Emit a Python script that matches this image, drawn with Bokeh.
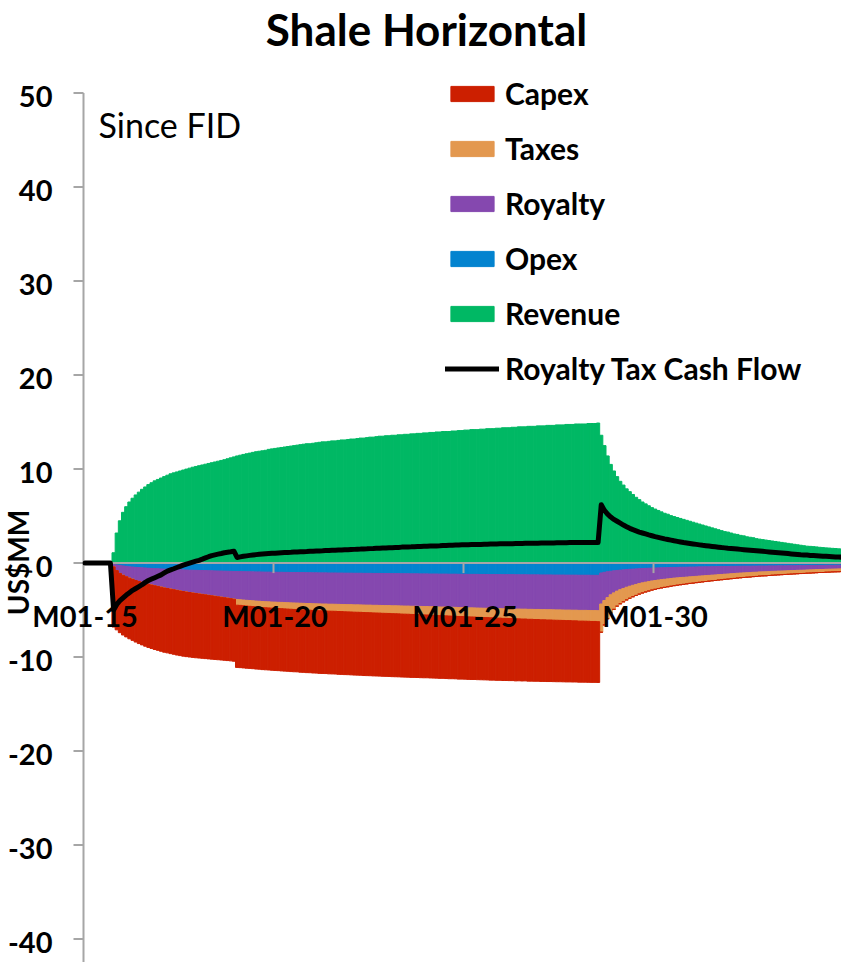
import math

from bokeh.core.properties import value
from bokeh.embed import file_html
from bokeh.models import ColumnDataSource, Legend, LegendItem, Range1d
from bokeh.plotting import figure
from bokeh.resources import INLINE

FONT = "Lato"

# Monthly categories, Jan 2015 .. Dec 2034
years = list(range(15, 35))
months = [f"M{m:02d}-{y:02d}" for y in years for m in range(1, 13)]

# US$MM per month, one row per year
revenue = [
    0, 0, 0, 0, 0, 0, 0, 0, 0, 1.1, 3.2, 4.5,
    5.4, 6.0, 6.5, 6.9, 7.25, 7.55, 7.85, 8.1, 8.35, 8.55, 8.75, 8.9,
    9.05, 9.2, 9.35, 9.5, 9.6, 9.7, 9.8, 9.9, 10.0, 10.1, 10.2, 10.28,
    10.36, 10.44, 10.52, 10.6, 10.68, 10.76, 10.84, 10.92, 11.0, 11.1, 11.2, 11.3,
    11.4, 11.48, 11.56, 11.63, 11.7, 11.78, 11.85, 11.9, 11.95, 12.0, 12.1, 12.15,
    12.2, 12.25, 12.3, 12.35, 12.4, 12.45, 12.5, 12.55, 12.6, 12.65, 12.7, 12.7,
    12.75, 12.8, 12.85, 12.9, 12.9, 12.95, 13.0, 13.0, 13.05, 13.1, 13.1, 13.15,
    13.2, 13.2, 13.25, 13.3, 13.3, 13.35, 13.4, 13.4, 13.45, 13.5, 13.5, 13.55,
    13.55, 13.6, 13.6, 13.65, 13.65, 13.7, 13.7, 13.75, 13.75, 13.8, 13.8, 13.85,
    13.85, 13.9, 13.9, 13.95, 13.95, 14.0, 14.0, 14.0, 14.05, 14.05, 14.1, 14.1,
    14.15, 14.15, 14.2, 14.2, 14.2, 14.25, 14.25, 14.3, 14.3, 14.3, 14.35, 14.35,
    14.4, 14.4, 14.4, 14.45, 14.45, 14.5, 14.5, 14.5, 14.55, 14.55, 14.55, 14.6,
    14.6, 14.6, 14.65, 14.65, 14.65, 14.7, 14.7, 14.7, 14.75, 14.75, 14.75, 14.8,
    14.8, 14.8, 14.8, 14.85, 14.85, 14.85, 14.9, 13.6, 12.5, 11.4, 10.5, 9.8,
    9.2, 8.7, 8.3, 7.9, 7.6, 7.3, 7.0, 6.75, 6.5, 6.3, 6.1, 5.9,
    5.75, 5.6, 5.45, 5.3, 5.2, 5.05, 4.95, 4.85, 4.75, 4.65, 4.55, 4.45,
    4.35, 4.25, 4.15, 4.05, 3.95, 3.85, 3.75, 3.65, 3.55, 3.45, 3.35, 3.3,
    3.2, 3.1, 3.05, 2.95, 2.9, 2.8, 2.75, 2.7, 2.6, 2.55, 2.5, 2.45,
    2.4, 2.35, 2.3, 2.25, 2.2, 2.15, 2.1, 2.05, 2.0, 1.95, 1.9, 1.85,
    1.8, 1.78, 1.75, 1.72, 1.68, 1.65, 1.62, 1.6, 1.57, 1.55, 1.52, 1.5,
]

# Outflows are listed as positive amounts and plotted below zero
opex = [
    0, 0, 0, 0, 0, 0, 0, 0, 0, 0.1, 0.2, 0.25,
    0.3, 0.35, 0.4, 0.42, 0.45, 0.48, 0.5, 0.52, 0.55, 0.57, 0.59, 0.6,
    0.62, 0.64, 0.65, 0.67, 0.68, 0.7, 0.71, 0.72, 0.74, 0.75, 0.76, 0.77,
    0.78, 0.79, 0.8, 0.81, 0.82, 0.83, 0.84, 0.85, 0.86, 0.87, 0.88, 0.89,
    0.9, 0.9, 0.91, 0.92, 0.92, 0.93, 0.94, 0.94, 0.95, 0.96, 0.96, 0.97,
    0.97, 0.98, 0.98, 0.99, 0.99, 1.0, 1.0, 1.0, 1.01, 1.01, 1.02, 1.02,
    1.03, 1.03, 1.04, 1.04, 1.04, 1.05, 1.05, 1.05, 1.06, 1.06, 1.07, 1.07,
    1.07, 1.08, 1.08, 1.08, 1.09, 1.09, 1.09, 1.1, 1.1, 1.1, 1.11, 1.11,
    1.11, 1.12, 1.12, 1.12, 1.13, 1.13, 1.13, 1.14, 1.14, 1.14, 1.15, 1.15,
    1.15, 1.16, 1.16, 1.16, 1.17, 1.17, 1.17, 1.18, 1.18, 1.18, 1.19, 1.19,
    1.19, 1.2, 1.2, 1.2, 1.2, 1.21, 1.21, 1.21, 1.22, 1.22, 1.22, 1.22,
    1.23, 1.23, 1.23, 1.23, 1.24, 1.24, 1.24, 1.24, 1.25, 1.25, 1.25, 1.25,
    1.26, 1.26, 1.26, 1.26, 1.27, 1.27, 1.27, 1.27, 1.28, 1.28, 1.28, 1.28,
    1.29, 1.29, 1.29, 1.29, 1.3, 1.3, 1.3, 1.05, 0.98, 0.92, 0.87, 0.82,
    0.78, 0.75, 0.72, 0.69, 0.66, 0.64, 0.62, 0.6, 0.58, 0.56, 0.55, 0.53,
    0.52, 0.51, 0.5, 0.49, 0.48, 0.47, 0.46, 0.45, 0.44, 0.44, 0.43, 0.42,
    0.42, 0.41, 0.4, 0.4, 0.39, 0.39, 0.38, 0.38, 0.37, 0.37, 0.36, 0.36,
    0.35, 0.35, 0.34, 0.34, 0.33, 0.33, 0.33, 0.32, 0.32, 0.31, 0.31, 0.31,
    0.3, 0.3, 0.3, 0.29, 0.29, 0.29, 0.28, 0.28, 0.28, 0.27, 0.27, 0.27,
    0.26, 0.26, 0.26, 0.25, 0.25, 0.25, 0.24, 0.24, 0.24, 0.23, 0.23, 0.23,
]

royalty = [
    0, 0, 0, 0, 0, 0, 0, 0, 0, 0.3, 0.6, 0.85,
    1.0, 1.1, 1.2, 1.3, 1.4, 1.48, 1.55, 1.62, 1.7, 1.76, 1.82, 1.88,
    1.94, 2.0, 2.05, 2.1, 2.15, 2.2, 2.25, 2.3, 2.34, 2.38, 2.42, 2.46,
    2.5, 2.54, 2.58, 2.62, 2.66, 2.7, 2.74, 2.78, 2.82, 2.86, 2.9, 2.95,
    2.98, 3.0, 3.02, 3.04, 3.06, 3.08, 3.1, 3.12, 3.14, 3.15, 3.16, 3.17,
    3.18, 3.19, 3.2, 3.21, 3.22, 3.23, 3.24, 3.25, 3.26, 3.27, 3.28, 3.28,
    3.29, 3.3, 3.3, 3.31, 3.31, 3.32, 3.32, 3.33, 3.33, 3.34, 3.34, 3.35,
    3.35, 3.36, 3.36, 3.37, 3.37, 3.38, 3.38, 3.39, 3.39, 3.4, 3.4, 3.41,
    3.41, 3.42, 3.42, 3.43, 3.43, 3.44, 3.44, 3.45, 3.45, 3.46, 3.46, 3.47,
    3.47, 3.48, 3.48, 3.49, 3.5, 3.5, 3.51, 3.52, 3.52, 3.53, 3.54, 3.54,
    3.55, 3.56, 3.56, 3.57, 3.58, 3.58, 3.59, 3.6, 3.6, 3.61, 3.62, 3.62,
    3.63, 3.63, 3.64, 3.64, 3.65, 3.65, 3.66, 3.66, 3.67, 3.67, 3.68, 3.68,
    3.69, 3.69, 3.7, 3.7, 3.7, 3.71, 3.71, 3.72, 3.72, 3.72, 3.73, 3.73,
    3.74, 3.74, 3.74, 3.75, 3.75, 3.75, 3.76, 3.3, 3.0, 2.75, 2.5, 2.35,
    2.2, 2.08, 1.98, 1.88, 1.8, 1.72, 1.65, 1.58, 1.52, 1.47, 1.42, 1.37,
    1.33, 1.29, 1.26, 1.23, 1.2, 1.17, 1.14, 1.12, 1.1, 1.08, 1.06, 1.04,
    1.02, 1.0, 0.98, 0.96, 0.94, 0.92, 0.9, 0.88, 0.86, 0.84, 0.82, 0.8,
    0.78, 0.76, 0.74, 0.72, 0.71, 0.69, 0.68, 0.66, 0.65, 0.63, 0.62, 0.61,
    0.6, 0.58, 0.57, 0.56, 0.55, 0.54, 0.53, 0.52, 0.51, 0.5, 0.49, 0.48,
    0.47, 0.46, 0.45, 0.44, 0.43, 0.43, 0.42, 0.41, 0.4, 0.4, 0.39, 0.38,
]

taxes = [
    0, 0, 0, 0, 0, 0, 0, 0, 0, 0, 0, 0,
    0, 0, 0, 0, 0, 0, 0, 0, 0, 0, 0, 0,
    0, 0, 0, 0, 0, 0, 0, 0, 0, 0, 0, 0,
    0, 0, 0, 0, 0, 0, 0, 0, 0, 0, 0, 0,
    0.6, 0.6, 0.61, 0.61, 0.62, 0.62, 0.63, 0.63, 0.64, 0.64, 0.65, 0.65,
    0.66, 0.66, 0.67, 0.67, 0.68, 0.68, 0.69, 0.69, 0.7, 0.7, 0.71, 0.71,
    0.72, 0.72, 0.73, 0.73, 0.74, 0.74, 0.75, 0.75, 0.76, 0.76, 0.77, 0.77,
    0.78, 0.78, 0.79, 0.79, 0.8, 0.8, 0.81, 0.81, 0.82, 0.82, 0.83, 0.83,
    0.84, 0.84, 0.85, 0.85, 0.86, 0.86, 0.87, 0.87, 0.88, 0.88, 0.89, 0.89,
    0.9, 0.9, 0.91, 0.91, 0.92, 0.92, 0.93, 0.93, 0.94, 0.94, 0.95, 0.95,
    0.96, 0.96, 0.97, 0.97, 0.98, 0.98, 0.99, 0.99, 1.0, 1.0, 1.01, 1.01,
    1.02, 1.02, 1.03, 1.03, 1.04, 1.04, 1.05, 1.05, 1.06, 1.06, 1.07, 1.07,
    1.08, 1.08, 1.09, 1.09, 1.1, 1.1, 1.11, 1.11, 1.12, 1.12, 1.13, 1.13,
    1.14, 1.14, 1.15, 1.15, 1.16, 1.16, 1.17, 3.0, 2.6, 2.25, 1.95, 1.75,
    1.6, 1.5, 1.42, 1.35, 1.28, 1.22, 1.17, 1.12, 1.08, 1.04, 1.0, 0.97,
    0.94, 0.91, 0.88, 0.86, 0.84, 0.82, 0.8, 0.78, 0.76, 0.74, 0.72, 0.7,
    0.69, 0.67, 0.66, 0.64, 0.63, 0.61, 0.6, 0.59, 0.57, 0.56, 0.55, 0.54,
    0.53, 0.52, 0.51, 0.5, 0.49, 0.48, 0.47, 0.46, 0.45, 0.44, 0.43, 0.43,
    0.42, 0.41, 0.4, 0.4, 0.39, 0.38, 0.38, 0.37, 0.36, 0.36, 0.35, 0.35,
    0.34, 0.34, 0.33, 0.33, 0.32, 0.32, 0.31, 0.31, 0.3, 0.3, 0.3, 0.29,
]

capex = [
    0, 0, 0, 0, 0, 0, 0, 0, 0, 6.4, 6.3, 6.3,
    6.35, 6.4, 6.45, 6.5, 6.55, 6.6, 6.65, 6.7, 6.72, 6.75, 6.78, 6.8,
    6.82, 6.84, 6.85, 6.86, 6.87, 6.88, 6.88, 6.88, 6.87, 6.86, 6.85, 6.84,
    6.82, 6.8, 6.78, 6.76, 6.74, 6.72, 6.7, 6.68, 6.66, 6.64, 6.62, 6.6,
    6.62, 6.62, 6.61, 6.61, 6.6, 6.6, 6.6, 6.6, 6.6, 6.6, 6.6, 6.61,
    6.61, 6.61, 6.62, 6.62, 6.62, 6.63, 6.63, 6.63, 6.64, 6.64, 6.64, 6.65,
    6.65, 6.65, 6.66, 6.66, 6.66, 6.67, 6.67, 6.67, 6.68, 6.68, 6.68, 6.68,
    6.69, 6.69, 6.69, 6.69, 6.7, 6.7, 6.7, 6.7, 6.7, 6.7, 6.7, 6.7,
    6.7, 6.7, 6.7, 6.7, 6.7, 6.7, 6.7, 6.7, 6.69, 6.69, 6.69, 6.69,
    6.68, 6.68, 6.68, 6.68, 6.67, 6.67, 6.67, 6.67, 6.66, 6.66, 6.66, 6.66,
    6.65, 6.65, 6.65, 6.64, 6.64, 6.64, 6.63, 6.63, 6.63, 6.62, 6.62, 6.62,
    6.61, 6.61, 6.6, 6.6, 6.6, 6.59, 6.59, 6.58, 6.58, 6.58, 6.57, 6.57,
    6.56, 6.56, 6.55, 6.55, 6.54, 6.54, 6.53, 6.53, 6.52, 6.52, 6.51, 6.51,
    6.5, 6.5, 6.49, 6.49, 6.48, 6.48, 6.47, 0, 0, 0, 0, 0,
    0, 0, 0, 0, 0, 0, 0, 0, 0, 0, 0, 0,
    0, 0, 0, 0, 0, 0, 0, 0, 0, 0, 0, 0,
    0, 0, 0, 0, 0, 0, 0, 0, 0, 0, 0, 0,
    0, 0, 0, 0, 0, 0, 0, 0, 0, 0, 0, 0,
    0, 0, 0, 0, 0, 0, 0, 0, 0, 0, 0, 0,
    0, 0, 0, 0, 0, 0, 0, 0, 0, 0, 0, 0,
]

royalty_tax_cash_flow = [
    0, 0, 0, 0, 0, 0, 0, 0, 0, -5.0, -4.4, -4.0,
    -3.7, -3.4, -3.15, -2.9, -2.7, -2.5, -2.3, -2.05, -1.85, -1.7, -1.55, -1.4,
    -1.25, -1.05, -0.85, -0.72, -0.6, -0.47, -0.35, -0.22, -0.1, 0.0, 0.1, 0.2,
    0.3, 0.42, 0.55, 0.68, 0.8, 0.88, 0.95, 1.02, 1.1, 1.15, 1.2, 1.27,
    0.6, 0.66, 0.72, 0.77, 0.82, 0.86, 0.9, 0.94, 0.97, 1.0, 1.02, 1.04,
    1.06, 1.08, 1.1, 1.12, 1.14, 1.15, 1.17, 1.18, 1.2, 1.22, 1.23, 1.25,
    1.26, 1.28, 1.3, 1.31, 1.33, 1.34, 1.36, 1.37, 1.39, 1.4, 1.42, 1.43,
    1.45, 1.46, 1.48, 1.49, 1.51, 1.52, 1.54, 1.55, 1.57, 1.58, 1.6, 1.61,
    1.63, 1.64, 1.66, 1.67, 1.7, 1.71, 1.72, 1.73, 1.75, 1.76, 1.77, 1.78,
    1.79, 1.81, 1.82, 1.83, 1.84, 1.86, 1.87, 1.9, 1.91, 1.92, 1.93, 1.94,
    1.95, 1.96, 1.97, 1.97, 1.98, 1.99, 2.0, 2.01, 2.02, 2.03, 2.04, 2.05,
    2.05, 2.06, 2.07, 2.07, 2.08, 2.09, 2.09, 2.1, 2.1, 2.11, 2.12, 2.12,
    2.13, 2.13, 2.14, 2.15, 2.15, 2.16, 2.16, 2.17, 2.17, 2.18, 2.18, 2.18,
    2.19, 2.19, 2.19, 2.2, 2.2, 2.2, 2.2, 6.2, 5.6, 5.2, 4.9, 4.65,
    4.45, 4.25, 4.05, 3.87, 3.7, 3.56, 3.43, 3.3, 3.2, 3.1, 3.0, 2.91,
    2.82, 2.74, 2.66, 2.58, 2.51, 2.44, 2.37, 2.31, 2.25, 2.19, 2.14, 2.09,
    2.04, 1.99, 1.94, 1.89, 1.85, 1.81, 1.77, 1.73, 1.69, 1.65, 1.62, 1.58,
    1.55, 1.52, 1.49, 1.46, 1.43, 1.4, 1.37, 1.34, 1.31, 1.28, 1.25, 1.22,
    1.19, 1.16, 1.13, 1.1, 1.07, 1.04, 1.01, 0.98, 0.95, 0.92, 0.89, 0.87,
    0.85, 0.82, 0.8, 0.78, 0.76, 0.74, 0.72, 0.7, 0.68, 0.66, 0.65, 0.63,
]

axis_labels = ["M01-15", "M01-20", "M01-25", "M01-30"]
y_ticks = [-40, -30, -20, -10, 0, 10, 20, 30, 40, 50]

COLORS = {
    "Capex": "#CC1F00",
    "Taxes": "#E3984F",
    "Royalty": "#8548AF",
    "Opex": "#0383CF",
    "Revenue": "#00B864",
}
GRAY = "#A6A6A6"

src = ColumnDataSource(dict(
    x=[i + 0.5 for i in range(len(months))],
    month=months,
    revenue=revenue,
    opex=[-v for v in opex],
    royalty=[-v for v in royalty],
    taxes=[-v for v in taxes],
    capex=[-v for v in capex],
    cash_flow=royalty_tax_cash_flow,
))

# Canvas geometry: the plot frame fills the page, the value axis is drawn at month 0
W, H = 841, 962
AXIS_PX = 83          # pixel column of the value axis
ZERO_PX = 562.6       # pixel row of the zero line
PX_PER_MONTH = 3.1667
PX_PER_UNIT = 9.4
x_start = -AXIS_PX / PX_PER_MONTH
x_end = x_start + W / PX_PER_MONTH
y_end = ZERO_PX / PX_PER_UNIT
y_start = y_end - H / PX_PER_UNIT


def dx(px):
    return x_start + px / PX_PER_MONTH


def dy(py):
    return y_end - py / PX_PER_UNIT


p = figure(
    width=W, height=H,
    output_backend="svg", toolbar_location=None,
    x_range=Range1d(x_start, x_end), y_range=Range1d(y_start, y_end),
    x_axis_location=None, y_axis_location=None,
    min_border_left=0, min_border_right=0, min_border_top=0, min_border_bottom=0,
)
p.outline_line_color = None
p.xgrid.visible = False
p.ygrid.visible = False
p.background_fill_color = "white"

# costs stacked downward from zero: opex nearest the axis, capex outermost
stack = ["opex", "royalty", "taxes", "capex"]
stack_colors = [COLORS["Opex"], COLORS["Royalty"], COLORS["Taxes"], COLORS["Capex"]]
cost_r = p.vbar_stack(stack, x="x", width=1.0, color=stack_colors, line_width=1, source=src)
rev_r = p.vbar(x="x", top="revenue", bottom=0, width=1.0, color=COLORS["Revenue"],
               line_width=1, source=src)

# value axis: line, outward ticks and bold labels
tick_len = 10 / PX_PER_MONTH
p.segment(x0=[0], y0=[y_start], x1=[0], y1=[max(y_ticks)], line_color=GRAY, line_width=2)
p.segment(x0=[0] * len(y_ticks), y0=y_ticks, x1=[-tick_len] * len(y_ticks), y1=y_ticks,
          line_color=GRAY, line_width=2)
p.text(x=[0] * len(y_ticks), y=y_ticks, text=[str(t) for t in y_ticks],
       text_font=value(FONT), text_font_style="bold", text_font_size="29px",
       text_color="black", text_align="right", text_baseline="middle",
       x_offset=-31, y_offset=3)

# category axis crossing at zero
tick_idx = [months.index(lbl) for lbl in axis_labels]
p.segment(x0=[0], y0=[0], x1=[x_end], y1=[0], line_color=GRAY, line_width=2)
p.segment(x0=tick_idx[1:], y0=[0] * 3, x1=tick_idx[1:], y1=[-10 / PX_PER_UNIT] * 3,
          line_color=GRAY, line_width=2)

cf_r = p.line(x="x", y="cash_flow", source=src, line_color="black", line_width=5,
              line_join="round", line_cap="round")

p.text(x=[i + 0.5 for i in tick_idx], y=[0] * len(tick_idx), text=axis_labels,
       text_font=value(FONT), text_font_style="bold", text_font_size="29px",
       text_color="black", text_align="center", text_baseline="middle", y_offset=52)

# title, unit label and note
p.text(x=[dx(426)], y=[dy(28)], text=["Shale Horizontal"],
       text_font=value(FONT), text_font_style="bold", text_font_size="44px",
       text_color="black", text_align="center", text_baseline="middle")
p.text(x=[dx(17)], y=[dy(562)], text=["US$MM"], angle=math.pi / 2,
       text_font=value(FONT), text_font_style="bold", text_font_size="28px",
       text_color="black", text_align="center", text_baseline="middle")
p.text(x=[dx(98)], y=[dy(124)], text=["Since FID"],
       text_font=value(FONT), text_font_size="34px",
       text_color="black", text_align="left", text_baseline="middle")

r_opex, r_roy, r_tax, r_cap = cost_r
legend = Legend(
    items=[
        LegendItem(label="Capex", renderers=[r_cap]),
        LegendItem(label="Taxes", renderers=[r_tax]),
        LegendItem(label="Royalty", renderers=[r_roy]),
        LegendItem(label="Opex", renderers=[r_opex]),
        LegendItem(label="Revenue", renderers=[rev_r]),
        LegendItem(label="Royalty Tax Cash Flow", renderers=[cf_r]),
    ],
    location=(445, 576),
    glyph_width=54, glyph_height=19,
    label_standoff=6, spacing=19, padding=0, margin=0,
    label_text_font=FONT, label_text_font_size="30px", label_text_font_style="bold",
    label_text_color="black",
    border_line_color=None, background_fill_alpha=0,
)
p.add_layout(legend)

open("out.html", "w").write(file_html(p, INLINE))
